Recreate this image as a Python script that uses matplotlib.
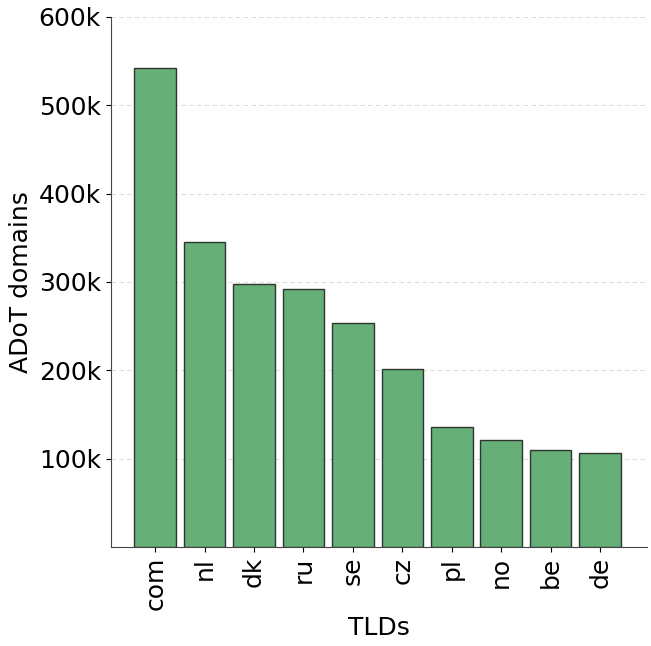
import matplotlib.pyplot as plt
from matplotlib.ticker import FuncFormatter

tlds = ['com', 'nl', 'dk', 'ru', 'se', 'cz', 'pl', 'no', 'be', 'de']
domains = [542000, 345000, 298000, 292000, 254000, 201000, 136000, 121000, 110000, 106000]

fig = plt.figure(figsize=(6.51, 6.46), dpi=100)
ax = fig.add_axes([0.170, 0.153, 0.824, 0.821])

ax.bar(range(len(tlds)), domains, width=0.84, color='#55a868', alpha=0.9,
       edgecolor='#222222', linewidth=1.0, zorder=3)

ax.set_xticks(range(len(tlds)))
ax.set_xticklabels(tlds, rotation=90, fontsize=18)
ax.set_xlim(-0.9, 9.95)
ax.set_ylim(0, 600000)
ax.set_yticks([100000, 200000, 300000, 400000, 500000, 600000])
ax.yaxis.set_major_formatter(FuncFormatter(lambda v, p: f'{int(v / 1000)}k'))
ax.tick_params(axis='y', labelsize=18)
ax.grid(axis='y', linestyle=(0, (4, 3)), color='#dddddd', linewidth=0.8, zorder=0)

ax.set_xlabel('TLDs', fontsize=18)
ax.set_ylabel('ADoT domains', fontsize=18)

ax.spines['top'].set_visible(False)
ax.spines['right'].set_visible(False)
for s in ['left', 'bottom']:
    ax.spines[s].set_color('#444444')

fig.savefig('out.png', dpi=100)
